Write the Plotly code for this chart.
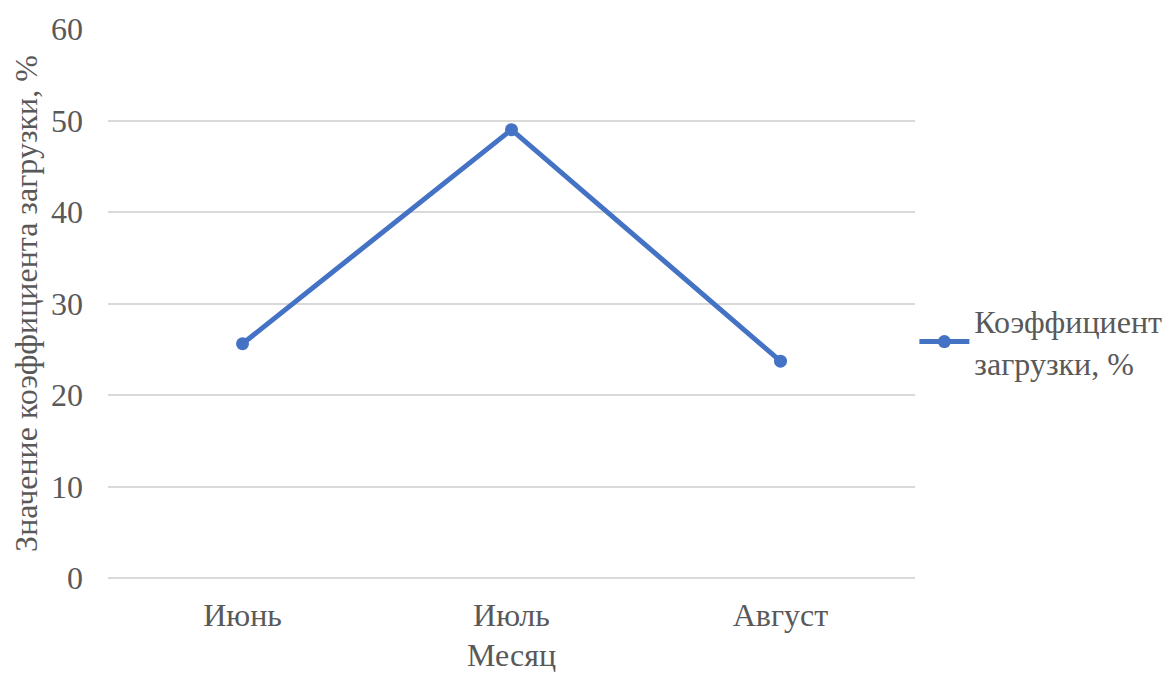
import plotly.graph_objects as go

months = ["Июнь", "Июль", "Август"]
load_factor = [25.6, 49.0, 23.7]
series_name = "Коэффициент<br>загрузки, %"
y_ticks = [0, 10, 20, 30, 40, 50, 60]

FONT = "'Times New Roman', 'Liberation Serif', 'DejaVu Serif', serif"
GRAY = "#595959"
FS = 32

fig = go.Figure()
fig.add_trace(go.Scatter(
    x=months, y=load_factor, mode="lines+markers", name=series_name,
    line=dict(color="#4472C4", width=5),
    marker=dict(color="#4472C4", size=13),
))

fig.update_layout(
    width=1168, height=665,
    paper_bgcolor="white", plot_bgcolor="white",
    margin=dict(l=100, r=261, t=21, b=95, autoexpand=False),
    font=dict(family=FONT, size=FS, color=GRAY),
    showlegend=True,
    legend=dict(xref="container", x=0.776, xanchor="left",
                yref="paper", y=0.43, yanchor="middle",
                font=dict(family=FONT, size=FS, color=GRAY),
                itemwidth=50, tracegroupgap=0, bgcolor="rgba(0,0,0,0)"),
    xaxis=dict(
        title=dict(text="Месяц", font=dict(family=FONT, size=FS, color=GRAY), standoff=12),
        range=[-0.5, 2.5], automargin=False,
        showgrid=False, showline=False, zeroline=False,
        ticks="", ticklabelstandoff=15, tickfont=dict(family=FONT, size=FS, color=GRAY),
    ),
    yaxis=dict(
        title=dict(text="Значение коэффициента загрузки, %", font=dict(family=FONT, size=FS, color=GRAY), standoff=16),
        range=[0, 60], tickvals=y_ticks, automargin=False,
        showgrid=True, gridcolor="#D9D9D9", gridwidth=1.5,
        zeroline=True, zerolinecolor="#D9D9D9", zerolinewidth=1.5,
        showline=False, ticks="", ticklen=0, ticklabelstandoff=24,
        tickfont=dict(family=FONT, size=FS, color=GRAY),
    ),
)

fig.write_html("out.html")
